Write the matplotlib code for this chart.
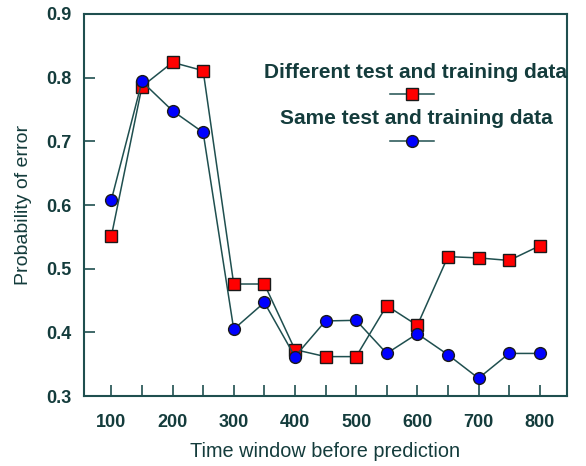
import matplotlib
matplotlib.use("Agg")
import matplotlib.pyplot as plt
from matplotlib.lines import Line2D
from matplotlib.ticker import MultipleLocator

plt.rcParams['font.family'] = ['Liberation Sans', 'DejaVu Sans']

window = [100, 150, 200, 250, 300, 350, 400, 450, 500, 550, 600, 650, 700, 750, 800]
different = [0.551, 0.786, 0.824, 0.811, 0.476, 0.476, 0.373, 0.362, 0.362, 0.442, 0.411, 0.519, 0.517, 0.513, 0.536]
same = [0.608, 0.794, 0.748, 0.714, 0.405, 0.447, 0.362, 0.418, 0.419, 0.367, 0.398, 0.365, 0.328, 0.367, 0.367]
label_diff = "Different test and training data"
label_same = "Same test and training data"

line_c = '#1f4f4f'
text_c = '#143c3c'

fig = plt.figure(figsize=(5.86, 4.66), dpi=100)
ax = fig.add_axes([0.143, 0.150, 0.825, 0.820])

ax.plot(window, different, color=line_c, lw=1.1, marker='s', ms=9,
        mfc='#ff0000', mec='#1a1a1a', mew=1.0, zorder=3)
ax.plot(window, same, color=line_c, lw=1.1, marker='o', ms=8.5,
        mfc='#0000ff', mec='#1a1a1a', mew=1.0, zorder=4)

ax.set_xlim(55, 845)
ax.set_ylim(0.3, 0.9)
ax.xaxis.set_major_locator(MultipleLocator(100))
ax.xaxis.set_minor_locator(MultipleLocator(50))
ax.set_yticks([0.3, 0.4, 0.5, 0.6, 0.7, 0.8, 0.9])
ax.set_yticklabels(['0.3', '0.4', '0.5', '0.6', '0.7', '0.8', '0.9'])

ax.tick_params(axis='x', which='both', direction='in', length=8, width=1.2,
               color=line_c, pad=13, labelsize=13, labelcolor=text_c)
ax.tick_params(axis='y', which='both', direction='in', length=8, width=1.2,
               color=line_c, pad=9, labelsize=13, labelcolor=text_c)
for lab in ax.get_xticklabels() + ax.get_yticklabels():
    lab.set_fontweight('bold')
for s in ax.spines.values():
    s.set_color(line_c)
    s.set_linewidth(1.5)

ax.set_xlabel("Time window before prediction", fontsize=14.3, color=text_c, labelpad=8)
ax.set_ylabel("Probability of error", fontsize=14, color=text_c, labelpad=10)

# legend (text above its sample)
tx = 0.687
ax.text(tx, 0.848, label_diff, transform=ax.transAxes, ha='center', va='center',
        fontsize=15, fontweight='bold', color=text_c)
ax.text(tx, 0.727, label_same, transform=ax.transAxes, ha='center', va='center',
        fontsize=15, fontweight='bold', color=text_c)
ax.add_line(Line2D([0.634, 0.679, 0.725], [0.79, 0.79, 0.79], transform=ax.transAxes,
                   color=line_c, lw=1.1, marker='s', markevery=[1], ms=9,
                   mfc='#ff0000', mec='#1a1a1a'))
ax.add_line(Line2D([0.634, 0.679, 0.725], [0.667, 0.667, 0.667], transform=ax.transAxes,
                   color=line_c, lw=1.1, marker='o', markevery=[1], ms=8.5,
                   mfc='#0000ff', mec='#1a1a1a'))

fig.savefig("out.png", dpi=100)
